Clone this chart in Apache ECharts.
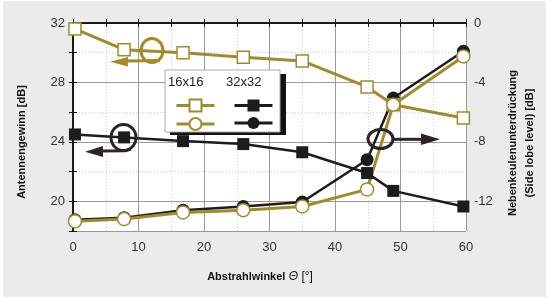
<!DOCTYPE html>
<html>
<head>
<meta charset="utf-8">
<script src="https://cdn.jsdelivr.net/npm/echarts@6/dist/echarts.min.js"></script>
<style>
  html, body { margin: 0; padding: 0; background: #fff; }
  #bg { position: absolute; left: 3px; top: 1px; width: 543px; height: 296px; background: #ebebeb; }
  #chart { position: absolute; left: 0; top: 0; width: 550px; height: 298px; }
</style>
</head>
<body>
<div id="bg"></div>
<div id="chart"></div>
<script>
// Abstrahlwinkel (x)
const angles = [0.3, 7.8, 16.8, 26, 35, 44.9, 48.9, 59.6]
// Antennengewinn [dB]
const gain16 = [31.6, 30.2, 30.0, 29.7, 29.45, 27.7, 26.5, 25.6]
const gain32 = [24.5, 24.3, 24.05, 23.85, 23.3, 21.9, 20.7, 19.65]
// Nebenkeulenunterdrückung [dB]
const sll16 = [-13.35, -13.2, -12.75, -12.6, -12.35, -11.2, -5.5, -2.25]
const sll32 = [-13.25, -13.1, -12.6, -12.35, -12.05, -9.2, -5.05, -1.9]

const gold = '#a38a2b'
const dark = '#1c1c1c'
const tickFont = { fontFamily: 'Liberation Sans', fontSize: 13, color: '#333' }

const pairs = (ys) => angles.map((x, i) => [x, ys[i]])

const chart = echarts.init(document.getElementById('chart'))

const option = {
  animation: false,
  grid: { left: 73, top: 23, width: 393, height: 208, show: true, backgroundColor: '#fff', borderWidth: 0 },
  xAxis: [
    {
      type: 'value', min: 0, max: 60, interval: 10, position: 'bottom',
      axisLine: { lineStyle: { color: '#111', width: 1.5 } },
      axisTick: { inside: true, length: 4, lineStyle: { color: '#111' } },
      minorTick: { show: true, splitNumber: 2, length: 4, lineStyle: { color: '#111' } },
      axisLabel: { ...tickFont, margin: 10 },
      splitLine: { lineStyle: { color: '#9a9a9a', width: 1 } },
      minorSplitLine: { show: true, lineStyle: { color: '#cfcfcf', type: [1, 2] } }
    },
    {
      type: 'value', min: 0, max: 60, interval: 5, position: 'top',
      axisLine: { lineStyle: { color: '#111', width: 1.5 } },
      axisTick: { inside: true, length: 4, lineStyle: { color: '#111' } },
      axisLabel: { show: false },
      splitLine: { show: false }
    }
  ],
  yAxis: [
    {
      type: 'value', min: 18, max: 32, interval: 2, position: 'left',
      axisLine: { show: true, lineStyle: { color: '#111', width: 1.5 } },
      axisTick: { show: true, length: 4, lineStyle: { color: '#111' } },
      axisLabel: { ...tickFont, margin: 8, formatter: (v) => (v % 4 === 0 ? String(v) : '') },
      splitLine: { lineStyle: { color: '#cfcfcf', type: [1, 2] } }
    },
    {
      type: 'value', min: -14, max: 0, interval: 2, position: 'right',
      axisLine: { show: true, lineStyle: { color: '#111', width: 1.5 } },
      axisTick: { show: true, length: 4, lineStyle: { color: '#111' } },
      axisLabel: { ...tickFont, margin: 8, formatter: (v) => (v % 4 === 0 ? String(v) : '') },
      splitLine: { show: false }
    },
    {
      // only draws the solid major grid lines (20 / 24 / 28 on the left scale)
      type: 'value', inverse: true, min: 0, max: 14, interval: 4, position: 'left',
      axisLine: { show: false }, axisTick: { show: false }, axisLabel: { show: false },
      splitLine: { lineStyle: { color: '#9a9a9a', width: 1 } }
    }
  ],
  legend: [
    {
      data: ['16x16 Gewinn', '16x16 NKU'], orient: 'vertical', left: 170, top: 93, z: 80,
      itemWidth: 38, itemHeight: 15, itemGap: 4, formatter: () => '', selectedMode: false,
      lineStyle: { width: 3 }
    },
    {
      data: ['32x32 Gewinn', '32x32 NKU'], orient: 'vertical', left: 228, top: 93, z: 80,
      itemWidth: 38, itemHeight: 15, itemGap: 4, formatter: () => '', selectedMode: false,
      lineStyle: { width: 3 }
    }
  ],
  series: [
    {
      name: '32x32 Gewinn', type: 'line', yAxisIndex: 0, data: pairs(gain32),
      symbol: 'rect', symbolSize: 12,
      lineStyle: { color: dark, width: 2.5 }, itemStyle: { color: dark }
    },
    {
      name: '32x32 NKU', type: 'line', yAxisIndex: 1, data: pairs(sll32),
      symbol: 'circle', symbolSize: 13,
      lineStyle: { color: dark, width: 2.5 }, itemStyle: { color: dark }
    },
    {
      name: '16x16 Gewinn', type: 'line', yAxisIndex: 0, data: pairs(gain16),
      symbol: 'rect', symbolSize: 12, showAllSymbol: true,
      lineStyle: { color: gold, width: 3 },
      itemStyle: { color: '#fff', borderColor: gold, borderWidth: 1.5 }
    },
    {
      name: '16x16 NKU', type: 'line', yAxisIndex: 1, data: pairs(sll16),
      symbol: 'circle', symbolSize: 13,
      lineStyle: { color: gold, width: 3 },
      itemStyle: { color: '#fff', borderColor: gold, borderWidth: 1.5 }
    }
  ],
  graphic: [
    // legend box with shadow
    { type: 'rect', z: 50, shape: { x: 170, y: 74, width: 116, height: 61 }, style: { fill: '#111' } },
    { type: 'rect', z: 51, shape: { x: 165, y: 70, width: 115, height: 62 }, style: { fill: '#fff', stroke: '#aaa', lineWidth: 1 } },
    { type: 'text', z: 52, x: 168, y: 76, style: { text: '16x16', font: '13px "Liberation Sans"', fill: '#222' } },
    { type: 'text', z: 52, x: 226, y: 76, style: { text: '32x32', font: '13px "Liberation Sans"', fill: '#222' } },

    // annotation: gold circle + arrow to the left axis
    { type: 'ellipse', z: 60, shape: { cx: 152, cy: 50.5, rx: 11, ry: 12 }, style: { fill: null, stroke: gold, lineWidth: 3 } },
    { type: 'polyline', z: 60, shape: { points: [[160, 60.5], [126, 61]] }, style: { stroke: gold, lineWidth: 3 } },
    { type: 'polygon', z: 60, shape: { points: [[110, 61.7], [128, 57], [128, 66.5]] }, style: { fill: gold } },

    // annotation: black circle + arrow to the left axis
    { type: 'ellipse', z: 60, shape: { cx: 123.5, cy: 137.5, rx: 12.5, ry: 13 }, style: { fill: null, stroke: '#2a2522', lineWidth: 3 } },
    { type: 'polyline', z: 60, shape: { points: [[131, 149], [125, 150.7], [100, 151]] }, style: { stroke: '#2a2522', lineWidth: 3 } },
    { type: 'polygon', z: 60, shape: { points: [[85, 151.7], [103, 146], [103, 157]] }, style: { fill: '#2a2522' } },

    // annotation: ellipse + arrow to the right axis
    { type: 'ellipse', z: 60, shape: { cx: 380.5, cy: 139, rx: 12.5, ry: 9.5 }, style: { fill: null, stroke: '#2a2522', lineWidth: 3 } },
    { type: 'polyline', z: 60, shape: { points: [[393, 139.3], [424, 139.3]] }, style: { stroke: '#2a2522', lineWidth: 3 } },
    { type: 'polygon', z: 60, shape: { points: [[440, 139.3], [421, 133.5], [421, 145]] }, style: { fill: '#2a2522' } },

    // axis titles
    {
      type: 'text', x: 22, y: 142, rotation: Math.PI / 2,
      style: { text: 'Antennengewinn [dB]', font: 'bold 11px "Liberation Sans"', fill: '#111', align: 'center', verticalAlign: 'middle' }
    },
    {
      type: 'text', x: 521, y: 143, rotation: Math.PI / 2,
      style: {
        text: 'Nebenkeulenunterdrückung\n(Side lobe level) [dB]', font: 'bold 11px "Liberation Sans"',
        fill: '#111', align: 'center', verticalAlign: 'middle', lineHeight: 17
      }
    },
    {
      type: 'text', x: 260, y: 277,
      style: {
        text: '{b|Abstrahlwinkel} {i|Θ} {n|[°]}', align: 'center', verticalAlign: 'middle',
        rich: {
          b: { font: 'bold 11px "Liberation Sans"', fill: '#111' },
          i: { font: 'italic 12px "Liberation Sans"', fill: '#111' },
          n: { font: '12px "Liberation Sans"', fill: '#111' }
        }
      }
    }
  ]
}

chart.setOption(option)
</script>
</body>
</html>
